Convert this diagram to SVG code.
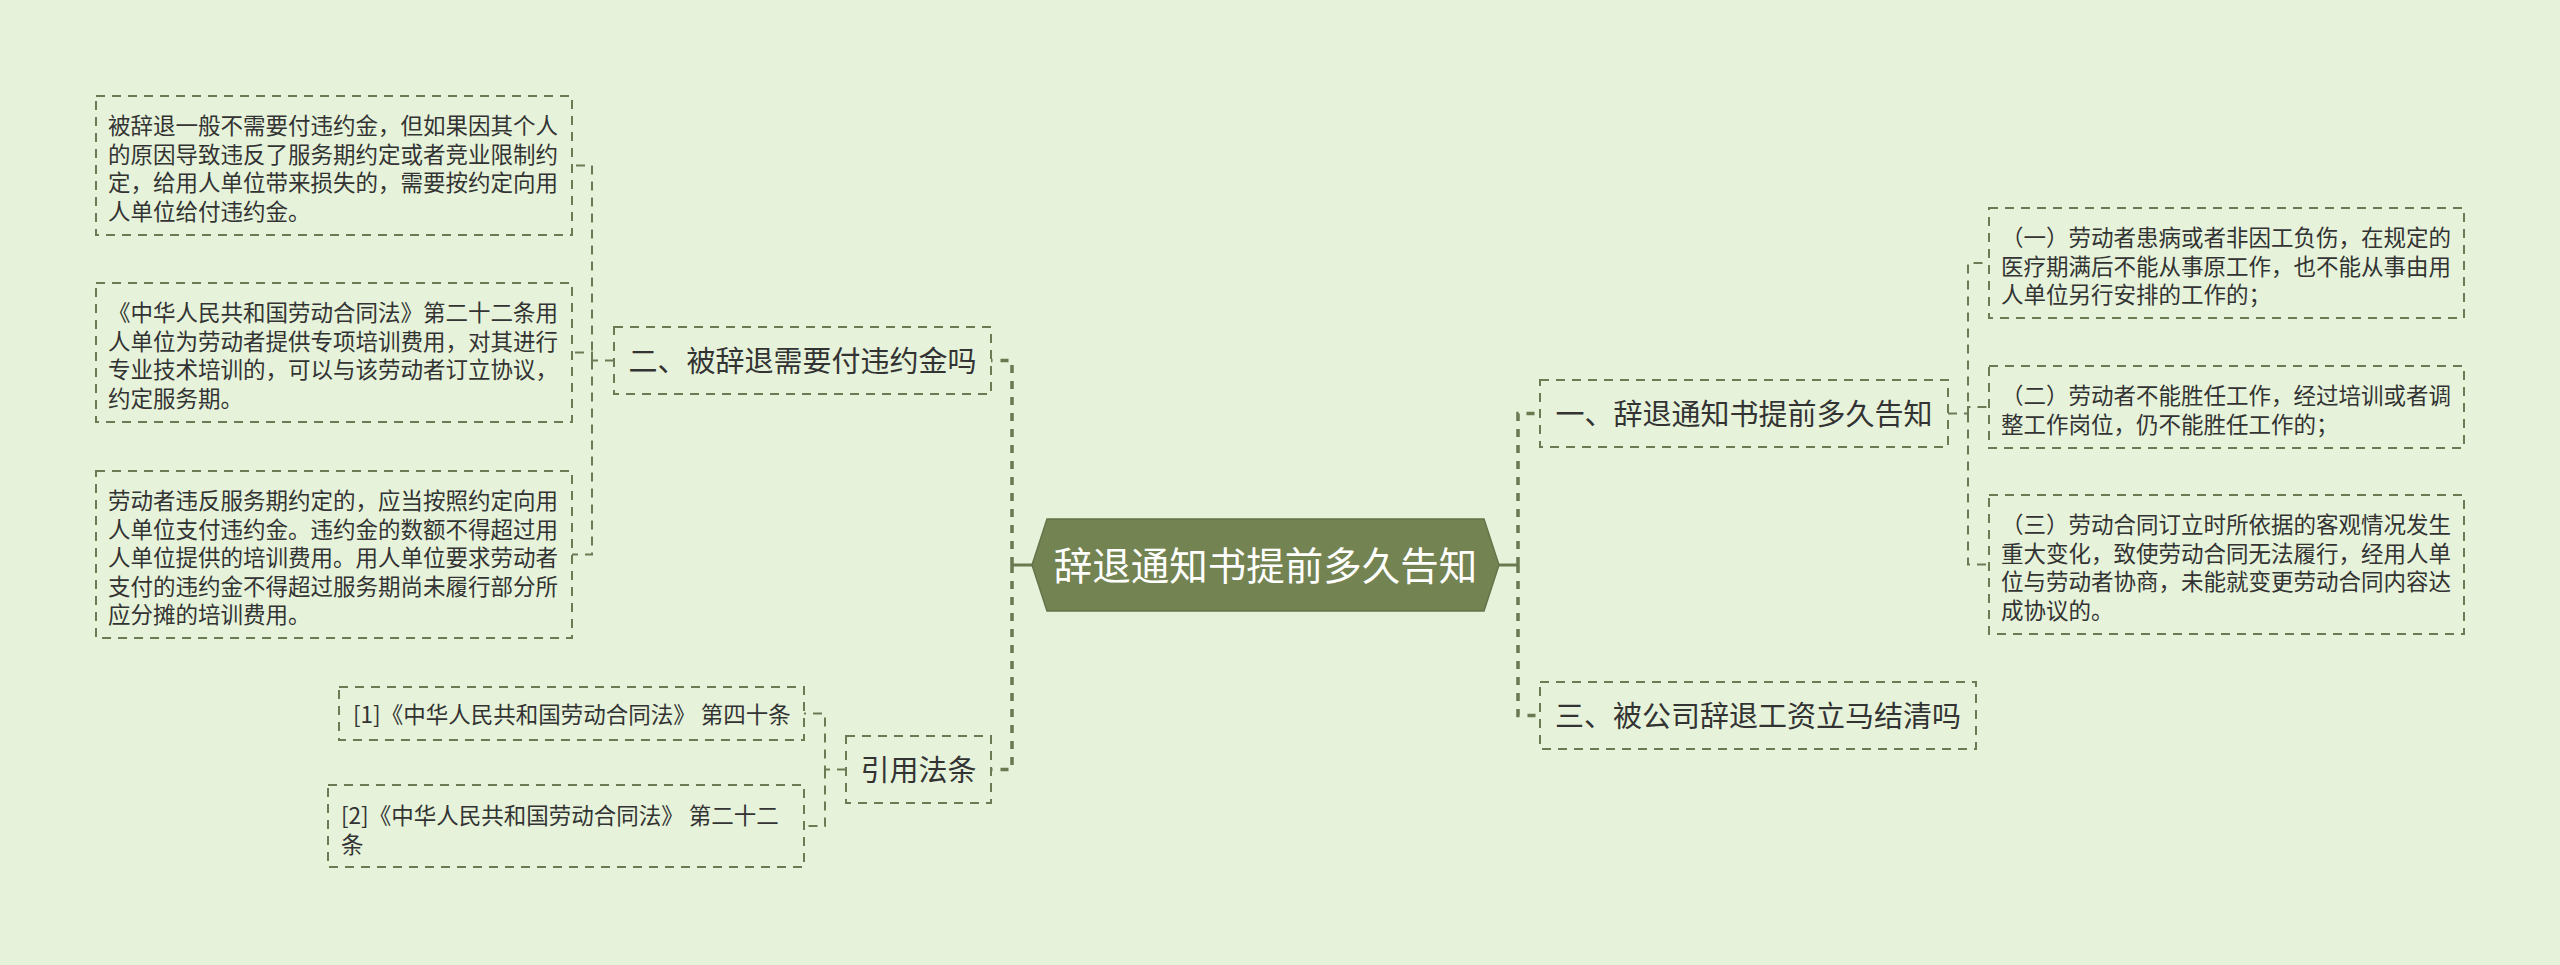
<svg xmlns="http://www.w3.org/2000/svg" width="2560" height="965" viewBox="0 0 2560 965">
<style>
.bg{fill:#e6f3da}
.box{fill:none;stroke:#6d7b55;stroke-width:2;stroke-dasharray:9 7}
.t{font-family:"Noto Sans CJK SC","Noto Sans",sans-serif;fill:#333333}
.leaf{font-size:22.5px}
.l1{font-size:29px}
.root{font-size:38.5px;fill:#ffffff}
.thin{fill:none;stroke:#6d7b55;stroke-width:2;stroke-dasharray:9 7}
.thick{fill:none;stroke:#6a7950;stroke-width:3.5;stroke-dasharray:8 8}
.solid{fill:none;stroke:#6a7950;stroke-width:3}
</style>
<rect class="bg" x="0" y="0" width="2560" height="965"/>
<g id="connectors">
<path class="solid" d="M1032,565 H1012"/>
<path class="thick" d="M1012,565 V360.5 H991"/>
<path class="thick" d="M1012,565 V769.5 H991"/>
<path class="solid" d="M1499,565 H1518"/>
<path class="thick" d="M1518,565 V413.5 H1540"/>
<path class="thick" d="M1518,565 V715.5 H1540"/>
<path class="thin" d="M614,360.5 H592 V165.5 H572"/>
<path class="thin" d="M592,360.5 V352.5 H572"/>
<path class="thin" d="M592,360.5 V554.5 H572"/>
<path class="thin" d="M846,769.5 H825 V713.5 H804"/>
<path class="thin" d="M825,769.5 V826 H804"/>
<path class="thin" d="M1948,413.5 H1968 V263 H1989"/>
<path class="thin" d="M1968,413.5 V407 H1989"/>
<path class="thin" d="M1968,413.5 V564.5 H1989"/>
</g>
<g id="root">
<polygon points="1032,565 1047,519 1484,519 1499,565 1484,611 1047,611" fill="#738351" stroke="#65744a" stroke-width="1.5"/>
<text class="t root" x="1265.5" y="579.5" text-anchor="middle">辞退通知书提前多久告知</text>
</g>
<g id="n2">
<rect class="box" x="614" y="327" width="377" height="67"/>
<text class="t l1" x="802.5" y="371.5" text-anchor="middle">二、被辞退需要付违约金吗</text>
</g>
<g id="n4">
<rect class="box" x="846" y="736" width="145" height="67"/>
<text class="t l1" x="918.5" y="780.5" text-anchor="middle">引用法条</text>
</g>
<g id="n1">
<rect class="box" x="1540" y="380" width="408" height="67"/>
<text class="t l1" x="1744" y="424.5" text-anchor="middle">一、辞退通知书提前多久告知</text>
</g>
<g id="n3">
<rect class="box" x="1540" y="682" width="436" height="67"/>
<text class="t l1" x="1758" y="726.5" text-anchor="middle">三、被公司辞退工资立马结清吗</text>
</g>
<g id="l1">
<rect class="box" x="96" y="96" width="476" height="139"/>
<text class="t leaf" x="108" y="134">被辞退一般不需要付违约金，但如果因其个人</text>
<text class="t leaf" x="108" y="162.5">的原因导致违反了服务期约定或者竞业限制约</text>
<text class="t leaf" x="108" y="191">定，给用人单位带来损失的，需要按约定向用</text>
<text class="t leaf" x="108" y="219.5">人单位给付违约金。</text>
</g>
<g id="l2">
<rect class="box" x="96" y="283" width="476" height="139"/>
<text class="t leaf" x="108" y="321">《中华人民共和国劳动合同法》第二十二条用</text>
<text class="t leaf" x="108" y="349.5">人单位为劳动者提供专项培训费用，对其进行</text>
<text class="t leaf" x="108" y="378">专业技术培训的，可以与该劳动者订立协议，</text>
<text class="t leaf" x="108" y="406.5">约定服务期。</text>
</g>
<g id="l3">
<rect class="box" x="96" y="471" width="476" height="167"/>
<text class="t leaf" x="108" y="509">劳动者违反服务期约定的，应当按照约定向用</text>
<text class="t leaf" x="108" y="537.5">人单位支付违约金。违约金的数额不得超过用</text>
<text class="t leaf" x="108" y="566">人单位提供的培训费用。用人单位要求劳动者</text>
<text class="t leaf" x="108" y="594.5">支付的违约金不得超过服务期尚未履行部分所</text>
<text class="t leaf" x="108" y="623">应分摊的培训费用。</text>
</g>
<g id="r1">
<rect class="box" x="339" y="687" width="465" height="53"/>
<text class="t leaf" x="353" y="723">[1]《中华人民共和国劳动合同法》 第四十条</text>
</g>
<g id="r2">
<rect class="box" x="328" y="785" width="476" height="82"/>
<text class="t leaf" x="341" y="824">[2]《中华人民共和国劳动合同法》 第二十二</text>
<text class="t leaf" x="341" y="852.5">条</text>
</g>
<g id="a1">
<rect class="box" x="1989" y="208" width="475" height="110"/>
<text class="t leaf" x="2001" y="246">（一）劳动者患病或者非因工负伤，在规定的</text>
<text class="t leaf" x="2001" y="274.5">医疗期满后不能从事原工作，也不能从事由用</text>
<text class="t leaf" x="2001" y="303">人单位另行安排的工作的；</text>
</g>
<g id="a2">
<rect class="box" x="1989" y="366" width="475" height="82"/>
<text class="t leaf" x="2001" y="404">（二）劳动者不能胜任工作，经过培训或者调</text>
<text class="t leaf" x="2001" y="432.5">整工作岗位，仍不能胜任工作的；</text>
</g>
<g id="a3">
<rect class="box" x="1989" y="495" width="475" height="139"/>
<text class="t leaf" x="2001" y="533">（三）劳动合同订立时所依据的客观情况发生</text>
<text class="t leaf" x="2001" y="561.5">重大变化，致使劳动合同无法履行，经用人单</text>
<text class="t leaf" x="2001" y="590">位与劳动者协商，未能就变更劳动合同内容达</text>
<text class="t leaf" x="2001" y="618.5">成协议的。</text>
</g>
</svg>
